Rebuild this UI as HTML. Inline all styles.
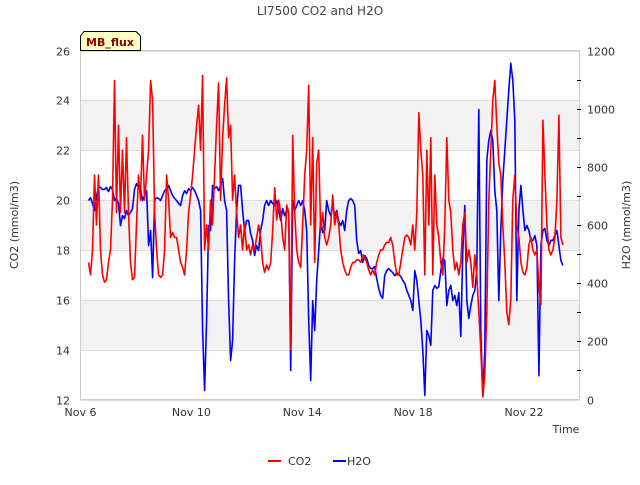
<!DOCTYPE html>
<html><head><meta charset="utf-8"><style>
body{margin:0;background:#fff;font-family:"Liberation Sans","DejaVu Sans",sans-serif}
svg text{font-family:"DejaVu Sans","Liberation Sans",sans-serif}
</style></head><body>
<svg id="c" width="640" height="480" viewBox="0 0 640 480" xmlns="http://www.w3.org/2000/svg">
<text x="320" y="15" text-anchor="middle" font-size="12" fill="#444">LI7500 CO2 and H2O</text>
<g id="bands"></g>
<g id="grid"></g>
<rect x="80.5" y="50.5" width="499" height="349" fill="none" stroke="#ccc"/>
<g id="axes"></g>
<g id="series"></g>
<path d="M80.5,50.5 L80.5,36 L84,31.5 L136,31.5 L140.5,36 L140.5,50.5 Z" fill="#ffffc8" stroke="#000"/>
<text x="110" y="46" text-anchor="middle" font-size="11" font-weight="bold" fill="#8b0000">MB_flux</text>
<text x="566" y="433" text-anchor="middle" font-size="11" fill="#333">Time</text>
<text transform="translate(18,225) rotate(-90)" text-anchor="middle" font-size="11" fill="#333">CO2 (mmol/m3)</text>
<text transform="translate(630,225) rotate(-90)" text-anchor="middle" font-size="11" fill="#333">H2O (mmol/m3)</text>
<g>
<line x1="268" y1="461" x2="281" y2="461" stroke="#f00" stroke-width="2"/>
<text x="288" y="465" font-size="11" fill="#333">CO2</text>
<line x1="333" y1="461" x2="346" y2="461" stroke="#00f" stroke-width="2"/>
<text x="347" y="465" font-size="11" fill="#333">H2O</text>
</g>
</svg>
<script>
const startHour = 6.93;
const stepHour = 1.733;
const xTickLabels = ["Nov 6","Nov 10","Nov 14","Nov 18","Nov 22"];
const xTickDays = [0,4,8,12,16];
const co2Ticks = [12,14,16,18,20,22,24,26];
const h2oTicks = [0,200,400,600,800,1000,1200];
const co2Values = [17.5,17,18,21,19,21,18,17,16.7,16.8,17.5,18,20,24.8,19.5,23,19.5,22,19.5,22.5,19.5,17.5,16.8,16.9,19,21,20,22.6,20,21,22,24.8,24,19.5,18,17,16.9,17,18,21,20,18.5,18.7,18.5,18.5,18,17.5,17.3,17,18,19.5,20.2,21,22,23,23.8,22,25,18,19,18,20,19,21,23,24.7,20,22.5,23.8,24.9,22.5,23,20,21,19.5,18.5,19,18,19,18,18.2,17.8,18.2,18,18.5,19,18.5,17.5,17.1,17.4,17.2,17.5,18.8,20.5,19.2,20,19.5,18.5,18,19.8,19.5,14,22.6,19.5,18,17.5,17.3,19,21,22,24.6,19,22.5,17.5,21.5,22,18.8,19.5,18.5,18.2,18.5,19,20.2,19,19.5,19,18,17.5,17.2,17,17,17.3,17.5,17.5,17.6,17.6,17.5,17.8,17.7,17.5,17.2,17,17.2,17,17.5,17.8,18,18,18.2,18.3,18.3,18.5,18.2,17.5,17,17,17.5,18,18.5,18.6,18.5,18.2,19,18,19.5,23.5,22,21,17,22,19,22.5,17,21,19,18.5,17.5,17,19,22.5,20,19.5,18,17.2,17.5,17,17.5,19,19.5,17.5,18,17.5,16.5,17.8,17,15.5,14,12.1,13,15.5,20,22,24,24.8,23,21.5,21,19,17.5,15.5,15,16,20,21,19,18.5,17.5,17.1,17,17.3,18.2,18.5,18,17.8,18,16.5,15.8,23.2,21,19,18,17.8,18,18.5,20,23.4,18.5,18.2];
const h2oValues = [684,694,674,650,698,732,729,722,722,729,715,732,722,684,694,674,598,632,622,650,632,643,656,722,742,729,729,684,701,718,529,581,419,684,694,691,684,701,718,725,736,718,701,691,684,674,667,701,718,708,725,718,729,718,701,684,650,237,31,272,598,581,736,725,732,718,736,760,684,650,340,134,203,478,650,736,736,650,581,615,615,571,547,495,529,512,581,615,667,684,667,684,674,667,684,650,615,656,632,650,643,100,684,650,667,684,667,684,650,581,272,65,340,237,409,512,615,574,581,684,650,632,667,632,650,612,598,615,581,650,684,691,684,667,547,502,512,471,495,485,461,450,450,457,416,382,358,348,426,443,450,443,436,426,436,430,423,409,399,375,358,340,306,443,409,340,272,169,14,237,220,186,375,392,382,388,443,485,478,323,375,392,340,358,323,368,217,512,667,340,279,323,358,375,443,997,237,14,169,822,891,925,891,718,650,340,581,753,856,960,1063,1156,1098,960,340,650,736,650,581,598,581,547,547,564,529,82,529,581,588,547,529,547,547,564,581,529,478,461];

const NS='http://www.w3.org/2000/svg';
const X0=80.5,X1=579.5,Y0=399.5,Y1=50.5;
const dayPx=27.72;
function xScale(h){return X0+(h/24)*dayPx;}
function yCo2(v){return Y0-(v-12)/(26-12)*(Y0-Y1);}
function yH2o(v){return Y0-v/1200*(Y0-Y1);}
function mk(tag,attrs,parent){const e=document.createElementNS(NS,tag);for(const k in attrs)e.setAttribute(k,attrs[k]);parent.appendChild(e);return e;}
const bands=document.getElementById('bands'),grid=document.getElementById('grid'),axes=document.getElementById('axes'),series=document.getElementById('series');
[[14,16],[18,20],[22,24]].forEach(b=>{
  const r=mk('rect',{x:X0,y:yCo2(b[1]),width:X1-X0,height:yCo2(b[0])-yCo2(b[1]),fill:'#f2f2f2'},bands);
  
  
});
co2Ticks.forEach(t=>{
  const y=Math.round(yCo2(t))+0.5;
  const l=mk('line',{x1:X0,x2:X1,y1:y,y2:y,stroke:'#ddd'},grid);
  
  
  const tx=mk('text',{x:70,y:y+4,'text-anchor':'end','font-size':11,fill:'#333'},axes);
  tx.textContent=t;
  
  
});
h2oTicks.forEach(t=>{
  const y=Math.round(yH2o(t))+0.5;
  const tx=mk('text',{x:587,y:y+4,'font-size':11,fill:'#333'},axes);
  tx.textContent=t;
  
  
});
for(let v=100;v<1200;v+=100){
  const y=Math.round(yH2o(v))+0.5;
  const l=mk('line',{x1:577,x2:581,y1:y,y2:y,stroke:'#000'},axes);
  
  
}
xTickDays.forEach((d,i)=>{
  const x=xScale(d*24);
  const tx=mk('text',{x:x,y:416,'text-anchor':'middle','font-size':11,fill:'#333'},axes);
  tx.textContent=xTickLabels[i];
  
  
});
function line(vals,yf,color,name){
  const pts=vals.map((v,i)=>xScale(startHour+i*stepHour).toFixed(1)+','+yf(v).toFixed(1)).join(' ');
  const p=mk('polyline',{points:pts,fill:'none',stroke:color,'stroke-width':1.6,'stroke-linejoin':'round'},series);
  
  
}
line(h2oValues,yH2o,'#0000ff','h2o-line');
line(co2Values,yCo2,'#ff0000','co2-line');
</script>
</body></html>
